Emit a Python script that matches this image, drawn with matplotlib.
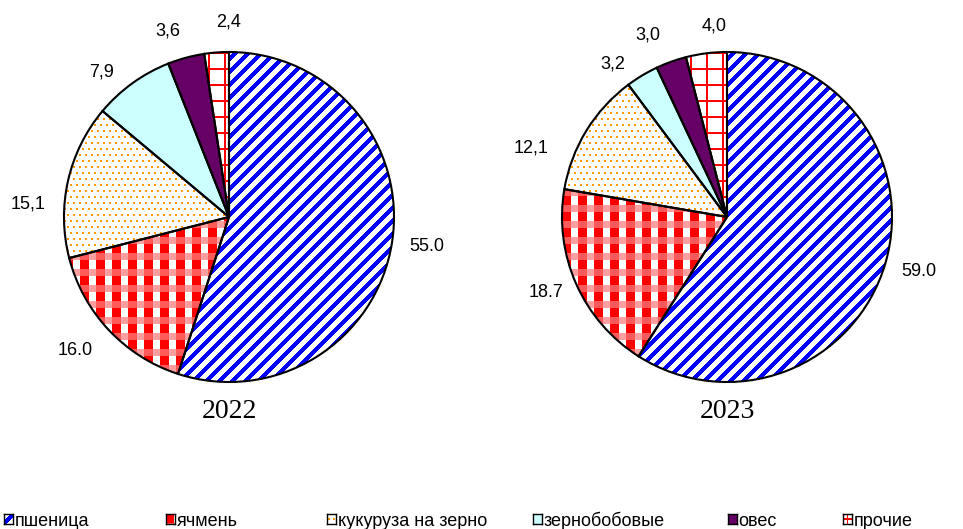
import numpy as np
import matplotlib
matplotlib.use('Agg')
import matplotlib.pyplot as plt
from matplotlib.colors import to_rgb

# ---------------- data ----------------
categories = ['пшеница', 'ячмень', 'кукуруза на зерно', 'зернобобовые', 'овес', 'прочие']
values_2022 = [55.0, 16.0, 15.1, 7.9, 3.6, 2.4]
values_2023 = [59.0, 18.7, 12.1, 3.2, 3.0, 4.0]
labels_2022 = ['55.0', '16.0', '15,1', '7,9', '3,6', '2,4']
labels_2023 = ['59.0', '18.7', '12,1', '3,2', '3,0', '4,0']
years = ['2022', '2023']

# ---------------- style / layout ----------------
W, H = 963, 529
R = 165                              # pie radius in pixels
centers = [(229, 217), (727, 217)]   # pie centres in pixels (from top-left)
fills = ['stripes', 'gingham', 'dots', '#ccffff', '#660066', 'grid']
# label positions relative to pie centre, in units of radius
label_pos = [
    [(1.20, -0.18), (-0.93, -0.81), (-1.22, 0.08), (-0.77, 0.88), (-0.37, 1.13), (0.0, 1.18)],
    [(1.16, -0.33), (-1.10, -0.46), (-1.19, 0.42), (-0.69, 0.93), (-0.48, 1.10), (-0.08, 1.16)],
]
legend_marker_cx = [8, 170, 331, 537, 732, 847]
legend_baseline = 525.5

SANS = ['Liberation Sans', 'DejaVu Sans']
SERIF = ['Liberation Serif', 'DejaVu Serif']


def texture(kind, n, di=0, dj=0):
    i, j = np.indices((n, n))
    i = i + di
    j = j + dj
    img = np.ones((n, n, 4))
    def put(mask, col):
        img[mask, :3] = to_rgb(col)
    if kind == 'stripes':
        put((i + j) % 13 < 6, '#0000ff')
    elif kind == 'gingham':
        a = i % 16
        b = j % 16
        put((a < 9) & (b < 9), '#ff0000')
        put((a >= 9) & (b < 9), '#ff5a5a')
        put((a >= 9) & (b >= 9), '#ffa0a0')
    elif kind == 'dots':
        m = (i % 6 < 2) & (((j + 3 * ((i // 6) % 2)) % 6) < 2)
        put(m, '#ff9900')
    elif kind == 'grid':
        put((i % 16 < 2) | (j % 16 < 2), '#ff0000')
    else:
        img[:, :, :3] = to_rgb(kind)
    return img


fig = plt.figure(figsize=(W / 100, H / 100), dpi=100)
fig.patch.set_facecolor('white')

for k, (vals, labs, year) in enumerate(zip([values_2022, values_2023],
                                           [labels_2022, labels_2023], years)):
    cx, cy = centers[k]
    ax = fig.add_axes([(cx - R) / W, (H - cy - R) / H, 2 * R / W, 2 * R / H])
    wedges, _ = ax.pie(vals, startangle=90, counterclock=False, radius=1,
                       wedgeprops=dict(edgecolor='black', linewidth=1.5,
                                       facecolor='none'))
    for w, f in zip(wedges, fills):
        w.set_zorder(3)
        im = ax.imshow(texture(f, 2 * R), extent=(-1, 1, -1, 1),
                       interpolation='nearest', zorder=1)
        im.set_clip_path(w)
    ax.set_xlim(-1, 1)
    ax.set_ylim(-1, 1)
    ax.set_aspect('equal')
    ax.axis('off')
    for (lx, ly), t in zip(label_pos[k], labs):
        ax.text(lx, ly, t, ha='center', va='center', fontsize=13,
                family=SANS, color='black', clip_on=False)
    ax.text(0, -1.18, year, ha='center', va='center', fontsize=20,
            family=SERIF, color='black', clip_on=False)

# legend
legend_offsets = {'stripes': (7, 0), 'gingham': (0, 0), 'dots': (2, 2), 'grid': (12, 12)}
for cat, f, mx in zip(categories, fills, legend_marker_cx):
    lax = fig.add_axes([(mx - 4.5) / W, (H - 524) / H, 9 / W, 10 / H])
    lax.imshow(texture(f, 10, *legend_offsets.get(f, (0, 0))),
               interpolation='nearest', aspect='auto')
    lax.set_xticks([])
    lax.set_yticks([])
    for s in lax.spines.values():
        s.set_linewidth(1.0)
        s.set_color('black')
    fig.text((mx + 6.5) / W, (H - legend_baseline) / H, cat, ha='left',
             va='baseline', fontsize=13, family=SANS, color='black')

fig.savefig('out.png', dpi=100, facecolor='white')
